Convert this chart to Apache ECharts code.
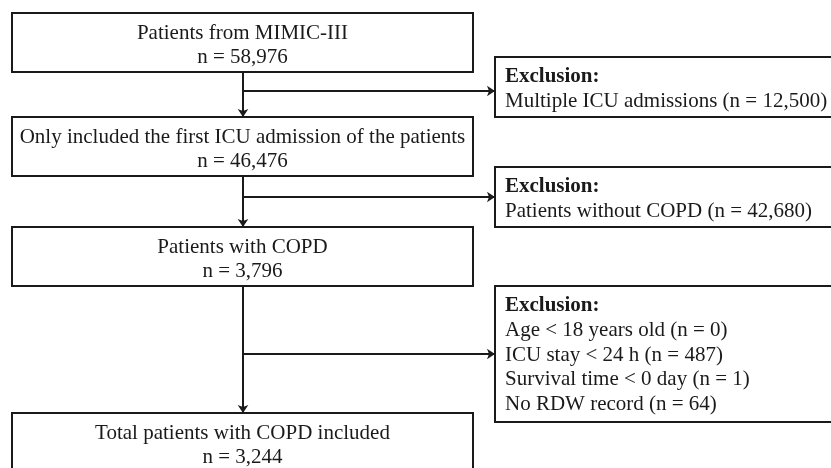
<!DOCTYPE html>
<html>
<head>
<meta charset="utf-8">
<script src="https://cdn.jsdelivr.net/npm/echarts@6/dist/echarts.min.js"></script>
<style>html,body{margin:0;padding:0;background:#fff}#c{width:831px;height:468px}</style>
</head>
<body>
<div id="c"></div>
<script>
// ---- data ----
const stepTitles = [
  'Patients from MIMIC-III',
  'Only included the first ICU admission of the patients',
  'Patients with COPD',
  'Total patients with COPD included'
];
const stepCounts = [58976, 46476, 3796, 3244];
const exclusionHeader = 'Exclusion:';
const exclusionReasons = [
  ['Multiple ICU admissions'],
  ['Patients without COPD'],
  ['Age < 18 years old', 'ICU stay < 24 h', 'Survival time < 0 day', 'No RDW record']
];
const exclusionCounts = [[12500], [42680], [0, 487, 1, 64]];

// ---- layout (canvas units) ----
const W = 831, H = 468;
const mainX0 = 12, mainX1 = 473, mainH = 59;
const mainTops = [13, 117, 227, 413];
const spineX = 243;
const excX0 = 495, excX1 = 870, excTextX = 505;
const excTops = [57, 167, 286];
const excBottoms = [117, 227, 422];
const branchY = [91, 197, 354];

const FONT = '"Liberation Serif","Times New Roman",serif';
const FS = 21;
const INK = '#1a1a1a';
const fmt = v => v.toLocaleString('en-US');

const chart = echarts.init(document.getElementById('c'), null, {renderer: 'canvas'});

const lineData = [];
for (let i = 0; i < 3; i++) {
  lineData.push({coords: [[spineX, mainTops[i] + mainH], [spineX, mainTops[i + 1]]]});
  lineData.push({coords: [[spineX, branchY[i]], [excX0, branchY[i]]]});
}

function txt(x, y, text, align, bold) {
  return {type: 'text', style: {x, y, text, font: (bold ? 'bold ' : '') + FS + 'px ' + FONT,
    fill: INK, align: align, verticalAlign: 'middle'}};
}

function mainBox(params, api) {
  const i = api.value(0);
  const p0 = api.coord([mainX0, mainTops[i]]);
  const p1 = api.coord([mainX1, mainTops[i] + mainH]);
  const cx = (p0[0] + p1[0]) / 2;
  return {
    type: 'group',
    children: [
      {type: 'rect', shape: {x: p0[0], y: p0[1], width: p1[0] - p0[0], height: p1[1] - p0[1]},
       style: {fill: '#fff', stroke: INK, lineWidth: 2}},
      txt(cx, p0[1] + 20.5, stepTitles[i], 'center', false),
      txt(cx, p0[1] + 44.5, 'n = ' + fmt(stepCounts[i]), 'center', false)
    ]
  };
}

function excBox(params, api) {
  const i = api.value(0);
  const p0 = api.coord([excX0, excTops[i]]);
  const p1 = api.coord([excX1, excBottoms[i]]);
  const tx = api.coord([excTextX, 0])[0];
  const children = [
    {type: 'rect', shape: {x: p0[0], y: p0[1], width: p1[0] - p0[0], height: p1[1] - p0[1]},
     style: {fill: '#fff', stroke: INK, lineWidth: 2}},
    txt(tx, p0[1] + 20, exclusionHeader, 'left', true)
  ];
  exclusionReasons[i].forEach((r, k) => {
    children.push(txt(tx, p0[1] + 20 + 24.6 * (k + 1),
      r + ' (n = ' + fmt(exclusionCounts[i][k]) + ')', 'left', false));
  });
  return {type: 'group', children};
}

chart.setOption({
  animation: false,
  backgroundColor: '#fff',
  grid: {left: 0, right: 0, top: 0, bottom: 0},
  xAxis: {type: 'value', min: 0, max: W, show: false},
  yAxis: {type: 'value', min: 0, max: H, inverse: true, show: false},
  series: [
    {
      type: 'lines', coordinateSystem: 'cartesian2d', silent: true, z: 1,
      symbol: ['none', 'arrow'], symbolSize: [0, 8],
      lineStyle: {color: INK, width: 2, opacity: 1, curveness: 0},
      data: lineData
    },
    {type: 'custom', renderItem: mainBox, data: stepTitles.map((_, i) => [i]), z: 2, silent: true, clip: false},
    {type: 'custom', renderItem: excBox, data: exclusionReasons.map((_, i) => [i]), z: 2, silent: true, clip: false}
  ]
});
</script>
</body>
</html>
